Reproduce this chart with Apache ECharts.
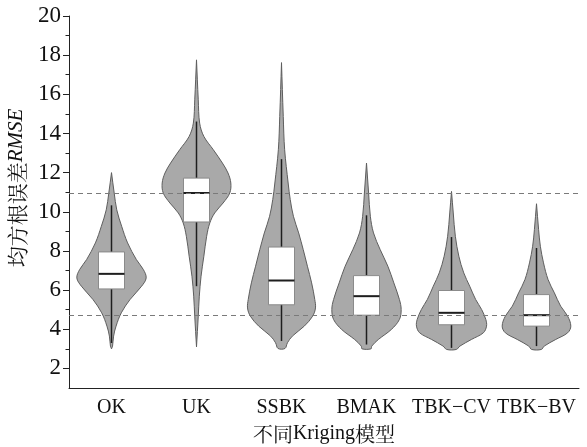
<!DOCTYPE html>
<html>
<head>
<meta charset="utf-8">
<script src="https://cdn.jsdelivr.net/npm/echarts@6/dist/echarts.min.js"></script>
<style>
  html, body { margin: 0; padding: 0; background: #fff; }
  #chart { width: 587px; height: 447px; }
</style>
</head>
<body>
<div id="chart"></div>
<script>
// Kriging models compared
const categories = ['OK', 'UK', 'SSBK', 'BMAK', 'TBK\u2212CV', 'TBK\u2212BV'];

// Box statistics per model: [lower whisker, Q1, median, Q3, upper whisker]
const boxOK    = [3.3, 6.06, 6.83, 7.95, 10.33];
const boxUK    = [6.2, 9.48, 10.96, 11.72, 14.61];
const boxSSBK  = [3.4, 5.25, 6.49, 8.2, 12.69];
const boxBMAK  = [3.22, 4.72, 5.69, 6.74, 9.82];
const boxTBKCV = [3.05, 4.23, 4.84, 5.98, 8.71];
const boxTBKBV = [3.14, 4.16, 4.72, 5.77, 8.15];

// Kernel density outlines: [RMSE, relative density (1 = widest)]
const densOK = [[12.0,0],[10.96,0.077],[10.1,0.15],[9.26,0.29],[8.41,0.46],[7.56,0.71],[7.05,0.91],[6.62,0.99],[6.2,0.86],[5.52,0.53],[4.84,0.28],[4.16,0.13],[3.65,0.06],[3.14,0.03],[3.0,0]];
const densUK = [[17.76,0],[15.72,0.05],[14.53,0.09],[13.85,0.21],[13.17,0.48],[12.49,0.74],[11.98,0.9],[11.47,0.98],[10.96,0.95],[10.45,0.76],[9.94,0.52],[9.43,0.38],[8.75,0.29],[7.73,0.21],[6.71,0.13],[5.69,0.08],[4.67,0.05],[3.1,0]];
const densSSBK = [[17.62,0],[14.87,0.05],[13.17,0.09],[11.47,0.19],[10.62,0.25],[9.77,0.34],[8.92,0.49],[8.07,0.62],[7.22,0.74],[6.37,0.86],[5.52,0.95],[5.09,0.97],[4.67,0.89],[4.16,0.65],[3.65,0.31],[3.31,0.17],[3.02,0.1]];
const densBMAK = [[12.49,0],[10.96,0.06],[9.77,0.11],[8.92,0.2],[8.07,0.39],[7.22,0.61],[6.37,0.78],[5.52,0.94],[5.01,0.99],[4.5,0.94],[3.99,0.71],[3.48,0.34],[3.14,0.15],[3.0,0.13]];
const densTBKCV = [[11.04,0],[9.94,0.05],[8.75,0.11],[7.73,0.21],[6.88,0.35],[6.2,0.52],[5.52,0.69],[5.01,0.86],[4.5,0.98],[4.16,1.0],[3.82,0.91],[3.48,0.57],[3.14,0.24],[2.97,0.14]];
const densTBKBV = [[10.41,0],[9.09,0.06],[8.24,0.11],[7.39,0.2],[6.54,0.33],[5.86,0.51],[5.18,0.69],[4.67,0.89],[4.16,0.98],[3.82,0.89],[3.48,0.55],[3.14,0.22],[2.97,0.14]];

// Reference levels (dashed)
const refLines = [10.95, 4.7];

// Y axis ticks
const yMajorTicks = [2, 4, 6, 8, 10, 12, 14, 16, 18, 20];
const yMinorTicks = [3, 5, 7, 9, 11, 13, 15, 17, 19];

const boxes = [boxOK, boxUK, boxSSBK, boxBMAK, boxTBKCV, boxTBKBV];
const densities = [densOK, densUK, densSSBK, densBMAK, densTBKCV, densTBKBV];
const rows = boxes.map((b, i) => [i].concat(b));

const serif = '"Liberation Serif", "Times New Roman", serif';
const cjk = '"Noto Serif CJK SC", "Noto Sans CJK SC", serif';

function renderViolin(params, api) {
  const i = api.value(0);
  const band = api.size([1, 0])[0];
  const cx = api.coord([i, 0])[0];
  const maxHalf = band * 0.412;
  const boxHalf = band * 0.153;
  const dens = densities[i];

  const right = dens.map(d => [cx + d[1] * maxHalf, api.coord([i, d[0]])[1]]);
  const left = dens.slice().reverse().map(d => [cx - d[1] * maxHalf, api.coord([i, d[0]])[1]]);
  const pts = right.concat(left);

  const yLo = api.coord([i, api.value(1)])[1];
  const yQ1 = api.coord([i, api.value(2)])[1];
  const yMed = api.coord([i, api.value(3)])[1];
  const yQ3 = api.coord([i, api.value(4)])[1];
  const yHi = api.coord([i, api.value(5)])[1];

  return {
    type: 'group',
    children: [
      {
        type: 'polygon',
        shape: { points: pts, smooth: 0.35 },
        style: { fill: '#a9a9a9', stroke: '#5e5e5e', lineWidth: 1 }
      },
      {
        type: 'line',
        shape: { x1: cx, y1: yHi, x2: cx, y2: yLo },
        style: { stroke: '#1e1e1e', lineWidth: 1.5 }
      },
      {
        type: 'rect',
        shape: { x: cx - boxHalf, y: yQ3, width: boxHalf * 2, height: yQ1 - yQ3 },
        style: { fill: '#ffffff', stroke: '#8a8a8a', lineWidth: 1 }
      },
      {
        type: 'line',
        shape: { x1: cx - boxHalf, y1: yMed, x2: cx + boxHalf, y2: yMed },
        style: { stroke: '#1e1e1e', lineWidth: 2 }
      }
    ]
  };
}

const chart = echarts.init(document.getElementById('chart'), null, { renderer: 'canvas' });

chart.setOption({
  backgroundColor: '#ffffff',
  animation: false,
  grid: { left: 69, right: 8, top: 16, bottom: 59, containLabel: false, outerBoundsMode: 'none' },
  xAxis: {
    type: 'category',
    data: categories,
    boundaryGap: true,
    name: '{a|不同}{b|Kriging}{a|模型}',
    nameLocation: 'middle',
    nameGap: 36,
    nameTextStyle: {
      rich: {
        a: { fontFamily: cjk, fontSize: 20, color: '#111' },
        b: { fontFamily: serif, fontSize: 20, color: '#111' }
      }
    },
    axisLine: { lineStyle: { color: '#222', width: 1 } },
    axisTick: { alignWithLabel: true, length: 5, lineStyle: { color: '#222' } },
    axisLabel: { fontFamily: serif, fontSize: 20, color: '#111', margin: 10, interval: 0, hideOverlap: false },
    splitLine: { show: false }
  },
  yAxis: [
    {
      type: 'value',
      min: 1,
      max: 20,
      name: '{a|均方根误差}{b|RMSE}',
      nameLocation: 'middle',
      nameGap: 36,
      nameTextStyle: {
        padding: [0, 0, 0, 28],
        rich: {
          a: { fontFamily: cjk, fontSize: 21, color: '#111' },
          b: { fontFamily: serif, fontStyle: 'italic', fontSize: 21, color: '#111' }
        }
      },
      axisLine: { show: true, lineStyle: { color: '#222', width: 1 } },
      axisTick: { show: true, length: 6, customValues: yMajorTicks, lineStyle: { color: '#222' } },
      axisLabel: { fontFamily: serif, fontSize: 23, color: '#111', margin: 8, customValues: yMajorTicks },
      splitLine: { show: false }
    },
    {
      type: 'value',
      min: 1,
      max: 20,
      position: 'left',
      axisLine: { show: false },
      axisTick: { show: true, length: 3.5, customValues: yMinorTicks, lineStyle: { color: '#222' } },
      axisLabel: { show: false },
      splitLine: { show: false }
    }
  ],
  series: [
    {
      type: 'custom',
      renderItem: renderViolin,
      data: rows,
      encode: { x: 0, y: [1, 2, 3, 4, 5] },
      z: 3,
      markLine: {
        silent: true,
        symbol: 'none',
        label: { show: false },
        lineStyle: { color: '#7a7a7a', type: [5, 4], width: 1 },
        data: refLines.map(v => ({ yAxis: v })),
        z: 5
      }
    }
  ]
});
</script>
</body>
</html>
